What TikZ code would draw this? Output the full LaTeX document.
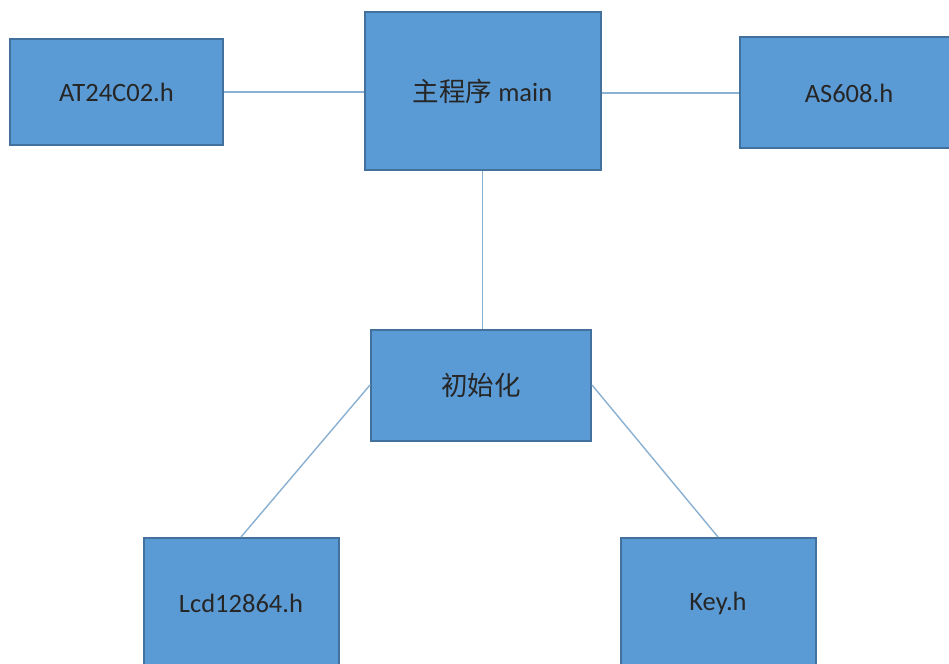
\documentclass[tikz,border=0pt]{standalone}
\usepackage{fontspec}
\setmainfont{Carlito}
\newfontfamily\cjk{Noto Sans CJK SC}
\usepackage{tikz}
\usetikzlibrary{positioning}

\definecolor{boxfill}{HTML}{5B9BD5}
\definecolor{boxline}{HTML}{41719C}
\definecolor{linkline}{HTML}{8AB0D2}

\begin{document}
\begin{tikzpicture}[x=1pt,y=-1pt,
		modul/.style={draw=boxline, line width=2pt, fill=boxfill, rectangle, inner sep=0pt, font=\fontsize{26.5}{30}\selectfont, text=black!85},
		link/.style={linkline, line width=1.4pt}]
			
			\clip (0,0) rectangle (949,663);
			\fill[white] (0,0) rectangle (949,663);
			
			% top row
			\node[modul, minimum width=236pt, minimum height=158pt] (main) at (482.5,91) {{\cjk 主程序} main};
			\node[modul, minimum width=213pt, minimum height=106pt] (at24) at (116.5,92) {AT24C02.h};
			\node[modul, minimum width=218pt, minimum height=111pt] (as608) at (849,93) {AS608.h};
			
			% init and its drivers
			\node[modul, minimum width=220pt, minimum height=111pt] (init) at (481,385) {\cjk 初始化};
			\node[modul, minimum width=195pt, minimum height=130pt] (lcd) at (241,603) {Lcd12864.h};
			\node[modul, minimum width=195pt, minimum height=130pt] (key) at (718,603) {Key.h};
			
			\draw[link] (at24.east) -- (main.west |- at24.east);
			\draw[link] (main.east |- as608.west) -- (as608.west);
			\draw[link] (main.south) -- (main.south |- init.north);
			\draw[link] (init.west) -- (lcd.north);
			\draw[link] (init.east) -- (key.north);
			
		\end{tikzpicture}
\end{document}
